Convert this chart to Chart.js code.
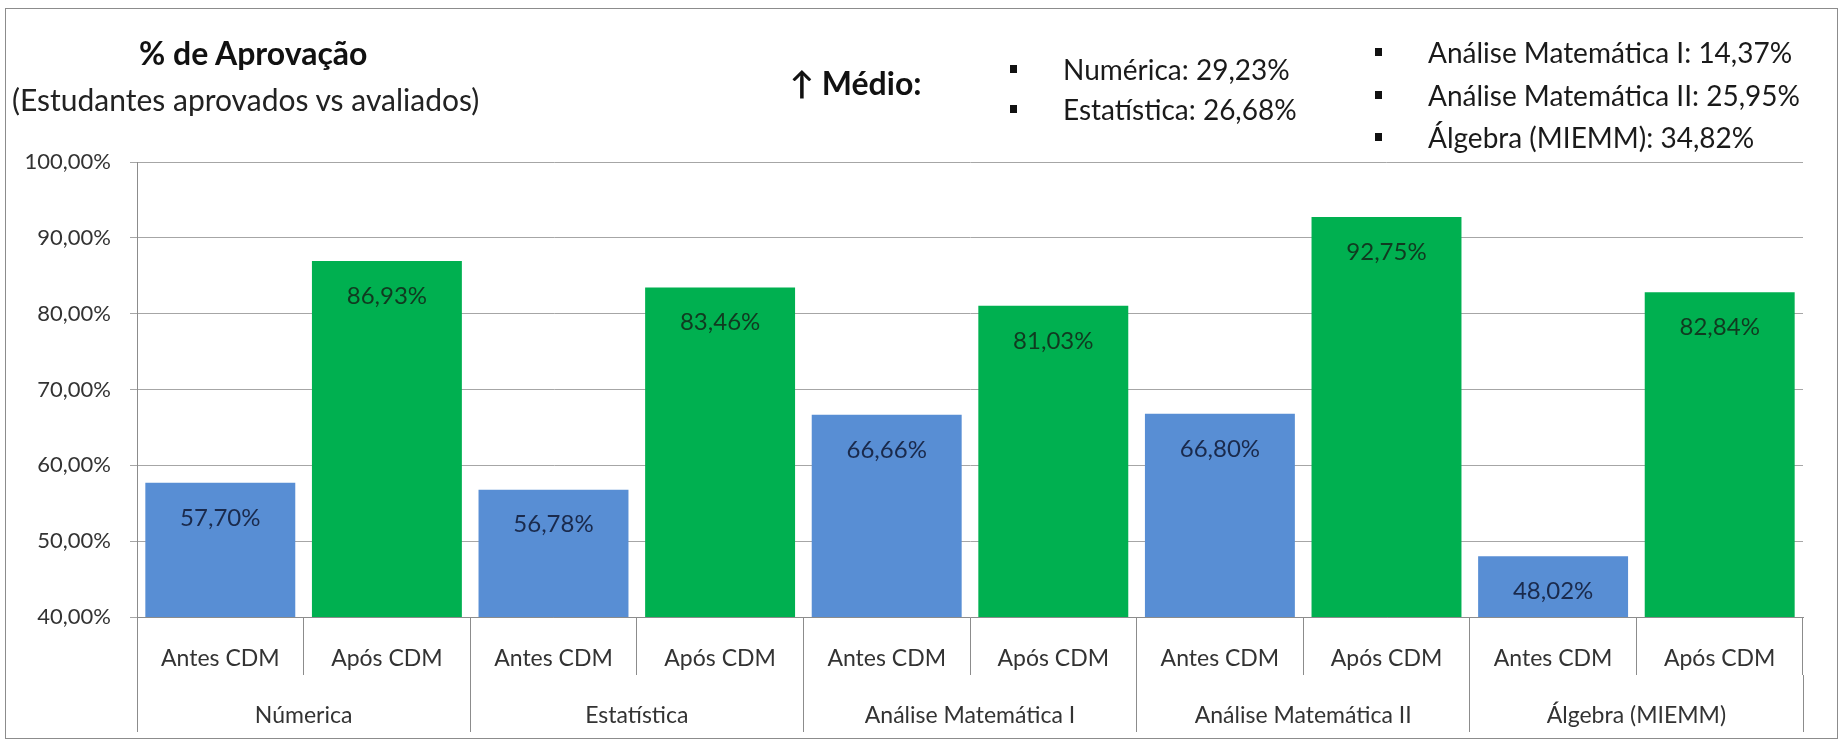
<!DOCTYPE html>
<html>
<head>
<meta charset="utf-8">
<script src="https://cdn.jsdelivr.net/npm/chart.js@4.4.1/dist/chart.umd.min.js"></script>
<style>
  html, body { margin: 0; padding: 0; background: #fff; }
  #wrap { position: relative; width: 1845px; height: 744px; overflow: hidden; background: #fff; }
  #frame { position: absolute; left: 5px; top: 8px; width: 1833px; height: 731px; border: 1px solid #8c8c8c; box-sizing: border-box; }
  #chart { position: absolute; left: 0; top: 0; }
  .txt { position: absolute; font-family: Lato, sans-serif; color: #1a1a1a; white-space: nowrap; line-height: 1; transform: translateY(-50%); }
  .title { font-weight: bold; font-size: 32px; color: #111; }
  .medio { font-weight: bold; font-size: 32px; color: #111; }
  .sub { font-size: 30px; color: #222; }
  .note { font-size: 28px; color: #1a1a1a; }
  .bullet { position: absolute; width: 7px; height: 8px; background: #111; transform: translateY(-50%); }
</style>
</head>
<body>
<div id="wrap">
  <div id="frame"></div>
  <canvas id="chart" width="1845" height="744"></canvas>
  <div id="notes"></div>
</div>
<script>
// subjects and the two phases shown under each one
const subjects = ['Númerica', 'Estatística', 'Análise Matemática I', 'Análise Matemática II', 'Álgebra (MIEMM)'];
const phases = ['Antes CDM', 'Após CDM'];

// pass rate (%) before and after CDM, per subject
const antesCdm = [57.70, 56.78, 66.66, 66.80, 48.02];
const aposCdm = [86.93, 83.46, 81.03, 92.75, 82.84];

// names used in the "average increase" box
const noteNames = ['Numérica', 'Estatística', 'Análise Matemática I', 'Análise Matemática II', 'Álgebra (MIEMM)'];

const yMin = 40;
const yMax = 100;
const yStep = 10;

const blue = '#588ed4';
const green = '#00b050';

const fmtPct = v => v.toFixed(2).replace('.', ',') + '%';

// one bar per (subject, phase)
const barLabels = subjects.flatMap(() => phases);
const barValues = subjects.flatMap((s, i) => [antesCdm[i], aposCdm[i]]);
const barColors = subjects.flatMap(() => [blue, green]);

// value written inside the top of every bar
const valueLabels = {
    id: 'valueLabels',
    afterDatasetsDraw(chart) {
        const ctx = chart.ctx;
        const meta = chart.getDatasetMeta(0);
        ctx.save();
        ctx.font = '24px Lato';
        ctx.textAlign = 'center';
        ctx.textBaseline = 'middle';
        meta.data.forEach((bar, i) => {
            ctx.fillStyle = i % 2 ? '#103a20' : '#1a2a4c';
            ctx.fillText(fmtPct(barValues[i]), bar.x, bar.y + 35);
        });
        ctx.restore();
    }
};

const ctx = document.getElementById('chart').getContext('2d');

const chart = new Chart(ctx, {
    type: 'bar',
    data: {
        labels: barLabels,
        datasets: [
            {
                data: barValues,
                backgroundColor: barColors,
                borderWidth: 0,
                barPercentage: 0.9,
                categoryPercentage: 1.0,
            },
        ],
    },
    options: {
        responsive: false,
        animation: false,
        devicePixelRatio: 1,
        layout: {
            padding: { left: 5, top: 162, right: 42, bottom: 12 },
        },
        plugins: {
            legend: { display: false },
            tooltip: { enabled: false },
        },
        scales: {
            x: {
                position: 'bottom',
                weight: 0,
                offset: true,
                grid: {
                    offset: true,
                    drawOnChartArea: false,
                    tickLength: 58,
                    color: '#8c8c8c',
                },
                border: { display: true, color: '#8c8c8c' },
                ticks: {
                    autoSkip: false,
                    maxRotation: 0,
                    padding: -30,
                    color: '#333',
                    font: { family: 'Lato', size: 23 },
                },
                afterFit: scale => { scale.height = 58; },
            },
            groups: {
                type: 'category',
                position: 'bottom',
                weight: 1,
                labels: subjects,
                offset: true,
                grid: {
                    offset: true,
                    drawOnChartArea: false,
                    tickLength: 57,
                    color: '#8c8c8c',
                },
                border: { display: false },
                ticks: {
                    autoSkip: false,
                    maxRotation: 0,
                    padding: -30,
                    color: '#333',
                    font: { family: 'Lato', size: 23 },
                },
                afterFit: scale => { scale.height = 57; },
            },
            y: {
                min: yMin,
                max: yMax,
                grid: {
                    color: '#a6a6a6',
                    tickLength: 7,
                },
                border: { display: true, color: '#8c8c8c' },
                ticks: {
                    stepSize: yStep,
                    padding: 19,
                    color: '#333',
                    font: { family: 'Lato', size: 22 },
                    callback: v => fmtPct(v),
                },
                afterFit: scale => { scale.width = 132; },
            },
        },
    },
    plugins: [valueLabels],
});

// title, subtitle and the average-increase box
const notes = document.getElementById('notes');
function addText(cls, text, x, y) {
    const el = document.createElement('div');
    el.className = 'txt ' + cls;
    el.textContent = text;
    el.style.left = x + 'px';
    el.style.top = y + 'px';
    notes.appendChild(el);
}
function addBullet(x, y) {
    const el = document.createElement('div');
    el.className = 'bullet';
    el.style.left = x + 'px';
    el.style.top = y + 'px';
    notes.appendChild(el);
}

addText('title', '% de Aprovação', 139, 53);
addText('sub', '(Estudantes aprovados vs avaliados)', 12, 99);
addText('medio', '↑ Médio:', 790, 83);

const noteRows = [
    { x: 1010, y: 69 }, { x: 1010, y: 109 },
    { x: 1375, y: 52 }, { x: 1375, y: 95 }, { x: 1375, y: 137 },
];
noteNames.forEach((name, i) => {
    const r = noteRows[i];
    addBullet(r.x, r.y);
    addText('note', name + ': ' + fmtPct(aposCdm[i] - antesCdm[i]), r.x + 53, r.y);
});
</script>
</body>
</html>
